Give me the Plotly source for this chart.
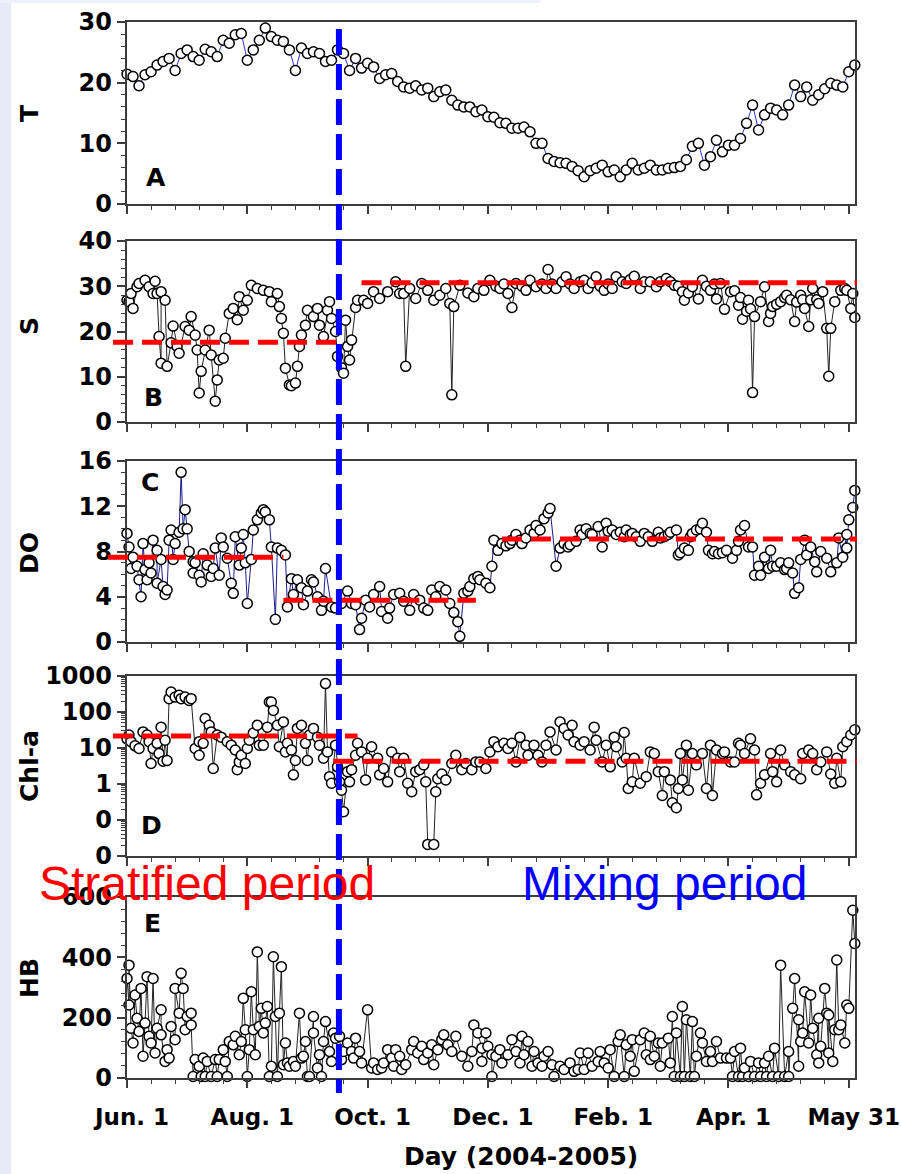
import plotly.graph_objects as go

W, H = 901, 1174

# ---------------------------------------------------------------- data ----
TICK_DAYS = [0, 60, 120, 180, 240, 300, 360]
TICK_TEXT = ["Jun. 1", "Aug. 1", "Oct. 1", "Dec. 1", "Feb. 1", "Apr. 1", "May 31"]

# boundary between stratified and mixing period (days after Jun. 1)
MIX_DAY = 105.7

# Temperature, every third day
T_DAY = list(range(0, 364, 3))
T_VAL = [
    21.4, 21.0, 19.5, 21.3, 21.8, 22.9, 23.5, 24.0, 22.0, 24.8,
    25.4, 24.3, 23.7, 25.5, 25.1, 24.3, 27.0, 26.5, 27.9, 28.1,
    23.7, 25.4, 27.0, 29.0, 27.6, 27.0, 26.8, 25.4, 22.0, 25.7,
    24.8, 25.1, 24.8, 23.5, 23.7, 25.4, 24.8, 22.0, 24.0, 22.4,
    23.2, 22.6, 20.7, 21.3, 21.5, 20.2, 19.3, 19.1, 19.5, 18.8,
    19.1, 17.7, 18.5, 18.8, 17.1, 16.3, 16.0, 16.0, 15.2, 15.5,
    14.4, 14.3, 13.4, 13.3, 12.5, 12.5, 12.7, 11.9, 10.0, 10.0,
    7.5, 7.0, 6.8, 6.7, 6.2, 5.5, 4.5, 5.5, 5.9, 6.4,
    5.3, 5.6, 4.5, 5.6, 6.7, 5.6, 5.9, 6.4, 5.6, 5.6,
    5.9, 6.0, 6.2, 7.3, 9.5, 10.0, 6.4, 7.8, 10.5, 8.6,
    9.7, 9.7, 10.8, 13.3, 16.3, 12.2, 14.7, 15.8, 15.5, 14.7,
    16.3, 19.6, 17.7, 19.3, 17.1, 18.0, 19.0, 19.9, 19.6, 19.3,
    21.8, 22.9,
]

# Salinity (day, value)
S_OBS = [
    (0, 26.9), (1, 26.6), (2, 28.4), (3, 25.1), (5, 29.9), (6, 30.6), (9, 31.3), (11, 29.9),
    (13, 28.4), (14, 31.1), (15, 28.4), (16, 18.9), (17, 13.0), (17, 28.8), (19, 26.9), (20, 12.3),
    (22, 17.5), (23, 21.2), (25, 16.7), (26, 15.2), (29, 21.1), (31, 20.3), (32, 23.3), (34, 19.2),
    (35, 15.9), (36, 6.4), (37, 11.2), (39, 15.9), (41, 20.3), (42, 14.8), (44, 4.6), (45, 9.3),
    (46, 13.7), (48, 14.1), (49, 18.5), (51, 24.0), (53, 25.1), (55, 22.6), (56, 27.7), (58, 24.7),
    (60, 26.9), (62, 30.2), (65, 29.5), (68, 29.1), (71, 28.8), (72, 26.6), (75, 28.4), (76, 25.5),
    (77, 22.9), (78, 19.6), (79, 11.9), (81, 8.2), (82, 8.0), (84, 8.6), (85, 12.3), (86, 16.7),
    (87, 19.2), (89, 21.4), (90, 24.7), (93, 23.3), (95, 25.1), (96, 21.4), (98, 18.9), (100, 24.7),
    (101, 26.6), (102, 22.9), (104, 20.0), (105, 14.5), (107, 12.0), (108, 10.8), (109, 22.5),
    (110, 16.7), (111, 13.7), (112, 18.1), (114, 25.3), (115, 26.9), (118, 26.9), (120, 26.2),
    (123, 28.8), (126, 27.3), (130, 28.8), (134, 31.0), (136, 28.4), (138, 28.4), (139, 12.3),
    (141, 29.5), (144, 27.3), (147, 30.6), (150, 29.1), (153, 26.9), (156, 28.0), (159, 29.5),
    (161, 26.2), (162, 6.0), (163, 25.5), (166, 30.2), (170, 28.5), (173, 27.7), (175, 29.5),
    (178, 29.1), (181, 31.3), (184, 30.0), (186, 29.5), (188, 30.5), (190, 28.4), (192, 25.3),
    (194, 30.6), (197, 30.0), (199, 29.1), (201, 31.3), (204, 29.9), (207, 30.5), (209, 29.5),
    (210, 33.7), (212, 30.5), (214, 29.5), (217, 31.0), (219, 32.1), (221, 30.5), (223, 29.5),
    (226, 31.0), (228, 31.3), (230, 29.5), (232, 30.8), (234, 32.1), (236, 30.0), (238, 29.1),
    (240, 30.5), (242, 29.5), (244, 32.1), (247, 31.0), (249, 30.6), (251, 31.5), (253, 32.2),
    (256, 29.5), (258, 31.0), (261, 31.0), (264, 29.9), (266, 31.0), (269, 31.7), (271, 31.0),
    (273, 30.2), (275, 30.0), (277, 28.8), (278, 26.9), (280, 28.5), (282, 29.9), (285, 27.2),
    (287, 31.3), (289, 30.0), (291, 29.1), (293, 30.5), (294, 27.2), (296, 30.6), (298, 24.9),
    (301, 28.8), (303, 29.0), (305, 25.8), (306, 27.5), (307, 22.7), (309, 24.5), (310, 26.9),
    (311, 25.0), (312, 6.5), (313, 23.3), (316, 26.6), (318, 29.9), (320, 22.2), (321, 24.0),
    (322, 25.5), (324, 26.0), (326, 26.6), (328, 27.5), (329, 28.0), (331, 27.0), (333, 22.2),
    (334, 26.5), (336, 28.0), (337, 27.0), (338, 25.1), (340, 21.1), (341, 27.0), (342, 29.5),
    (344, 27.0), (345, 26.2), (347, 28.8), (349, 20.7), (350, 10.1), (351, 20.7), (353, 26.6),
    (356, 29.1), (358, 29.5), (359, 29.1), (361, 25.1), (362, 28.4), (363, 23.1),
]

# Dissolved oxygen (day, value)
DO_OBS = [
    (0, 9.6), (1, 8.4), (2, 6.5), (3, 7.5), (5, 6.7), (6, 5.5), (7, 4.0), (8, 8.7), (9, 6.4),
    (10, 5.5), (11, 7.0), (12, 6.1), (13, 9.0), (15, 8.1), (15, 5.2), (17, 7.3), (18, 4.9),
    (19, 4.2), (20, 4.6), (21, 9.0), (22, 9.9), (23, 7.3), (24, 8.7), (26, 9.7), (27, 15.0),
    (28, 10.0), (29, 11.7), (30, 10.0), (31, 8.0), (33, 7.1), (33, 6.1), (34, 7.0), (36, 5.9),
    (37, 5.3), (38, 7.8), (40, 6.8), (42, 5.8), (43, 6.5), (44, 8.3), (46, 5.9), (47, 9.2),
    (48, 8.4), (50, 7.4), (52, 5.2), (53, 4.3), (54, 9.3), (56, 6.8), (57, 8.3), (58, 9.5),
    (59, 7.0), (60, 3.4), (62, 7.3), (63, 9.9), (65, 10.8), (67, 11.4), (68, 11.7), (69, 11.5),
    (71, 10.8), (72, 8.4), (74, 2.0), (75, 8.3), (77, 8.1), (79, 7.7), (80, 3.1), (82, 5.6),
    (83, 4.2), (85, 5.5), (87, 4.8), (88, 3.3), (90, 4.5), (92, 5.5), (93, 5.3), (95, 4.0),
    (97, 2.8), (98, 3.6), (99, 6.5), (102, 3.1), (104, 3.0), (107, 3.4), (110, 4.5), (112, 3.4),
    (114, 3.3), (116, 1.1), (117, 2.1), (119, 3.7), (121, 3.1), (123, 4.2), (126, 4.9), (127, 2.7),
    (130, 2.1), (131, 3.0), (133, 4.2), (136, 4.3), (138, 3.6), (141, 2.8), (143, 4.2), (146, 3.7),
    (148, 3.0), (150, 2.8), (152, 4.6), (154, 4.0), (156, 4.9), (159, 4.6), (161, 3.4), (163, 2.6),
    (165, 1.8), (166, 0.5), (168, 4.3), (170, 4.5), (171, 4.9), (173, 5.6), (175, 5.8), (176, 5.5),
    (179, 5.2), (181, 4.8), (182, 6.7), (183, 9.0), (185, 8.1), (187, 8.7), (189, 8.5), (191, 8.7),
    (192, 9.0), (194, 9.5), (196, 9.0), (197, 8.7), (199, 9.2), (201, 9.9), (203, 9.6), (204, 10.3),
    (206, 9.9), (208, 10.9), (210, 11.4), (211, 11.8), (214, 6.7), (216, 8.3), (218, 8.7),
    (220, 8.4), (221, 8.6), (224, 8.9), (226, 9.9), (227, 9.5), (229, 10.0), (231, 9.6), (232, 9.5),
    (235, 10.2), (237, 8.4), (239, 10.5), (240, 9.8), (242, 9.9), (244, 9.5), (246, 9.7), (248, 9.3),
    (249, 9.9), (251, 9.5), (252, 9.6), (254, 9.3), (256, 8.9), (258, 9.6), (260, 9.3), (262, 8.9),
    (265, 9.7), (266, 9.2), (268, 9.3), (270, 9.5), (271, 9.7), (274, 9.9), (275, 7.7), (276, 7.9),
    (278, 8.3), (280, 8.1), (281, 9.3), (282, 9.6), (284, 9.9), (286, 10.0), (287, 10.5), (289, 9.7),
    (290, 8.1), (292, 7.8), (293, 8.0), (295, 7.8), (297, 7.9), (299, 8.1), (302, 7.4), (304, 8.1),
    (305, 8.9), (306, 9.9), (308, 10.3), (310, 8.4), (312, 8.4), (313, 5.9), (315, 6.7), (316, 5.9),
    (318, 7.5), (320, 6.5), (321, 8.1), (322, 6.7), (324, 6.7), (326, 7.0), (328, 6.4), (329, 6.5),
    (330, 7.0), (332, 6.1), (333, 4.3), (335, 4.8), (336, 7.3), (338, 9.0), (339, 7.7), (341, 8.4),
    (343, 7.1), (344, 6.2), (346, 8.0), (349, 7.4), (351, 6.2), (354, 7.0), (355, 9.2), (357, 7.5),
    (359, 9.5), (359, 8.3), (360, 10.8), (362, 11.9), (363, 13.4),
]

# Chlorophyll-a (day, value), log scale
CHL_OBS = [
    (0, 18), (1, 23), (2, 15), (4, 11.5), (6, 9.7), (8, 28), (10, 23), (11, 15), (12, 3.7),
    (13, 9.7), (15, 13.5), (16, 7), (17, 38), (18, 4.3), (19, 16.5), (20, 4.5), (21, 235),
    (22, 360), (24, 260), (26, 290), (27, 235), (29, 260), (31, 210), (32, 235), (34, 9.7),
    (36, 15), (36, 6.3), (38, 13.5), (39, 66), (41, 43), (42, 28), (43, 2.7), (45, 23), (47, 20),
    (50, 15), (52, 12), (54, 8.8), (55, 2.5), (56, 4.1), (57, 6.3), (59, 3.7), (60, 9.7),
    (61, 16.5), (63, 26), (65, 43), (66, 12), (68, 12), (70, 38), (71, 190), (72, 190), (73, 110),
    (75, 43), (76, 10.8), (78, 53), (79, 7.8), (80, 13.5), (82, 8.8), (83, 1.8), (84, 4.5),
    (85, 35), (87, 43), (89, 13.5), (90, 4.5), (91, 23), (93, 35), (95, 20), (96, 12), (98, 5.2),
    (99, 615), (100, 7.8), (101, 1.6), (102, 1.05), (104, 12), (105, 3), (106, 1.15), (107, 0.67),
    (108, 0.17), (110, 2.2), (111, 1.15), (112, 2.5), (114, 6.3), (115, 13.5), (117, 7.8),
    (119, 1.3), (120, 5.2), (122, 10.8), (125, 5.2), (126, 1.8), (128, 2.7), (130, 1.15),
    (132, 7.8), (135, 5.2), (136, 2.2), (138, 5.2), (140, 1.05), (142, 0.61), (144, 2.2),
    (146, 2.5), (148, 3.4), (149, 1.15), (150, 0.021), (153, 0.021), (154, 0.61), (155, 1.4),
    (157, 1.9), (159, 1.3), (162, 3.7), (164, 6.3), (167, 2.5), (169, 3.7), (172, 2.5), (174, 4.1),
    (176, 4.1), (179, 2.7), (181, 7.8), (183, 15), (185, 10.8), (188, 13.5), (190, 9.7),
    (192, 13.5), (194, 4.1), (196, 20), (199, 12), (200, 6.3), (203, 12), (205, 6.3), (207, 4.1),
    (209, 12), (211, 28), (214, 8.8), (216, 53), (218, 35), (220, 23), (222, 43), (223, 15),
    (226, 12), (228, 15), (231, 8.8), (233, 38), (234, 16.5), (237, 4.1), (239, 12), (241, 3),
    (243, 20), (244, 10.8), (247, 4.1), (248, 27), (249, 5.2), (250, 0.75), (252, 1.15),
    (253, 5.2), (256, 1.05), (259, 1.6), (261, 7.8), (263, 7), (265, 2.2), (267, 0.48),
    (268, 2.2), (271, 1.3), (272, 0.3), (274, 0.22), (275, 0.75), (276, 7), (277, 1.3), (279, 12),
    (280, 0.67), (282, 7), (284, 3.4), (287, 7), (289, 0.75), (291, 12), (292, 0.48), (294, 8.8),
    (297, 7), (298, 7.8), (301, 4.1), (303, 4.1), (305, 13.5), (306, 12), (308, 7), (311, 18),
    (313, 8.8), (314, 0.5), (316, 1.05), (318, 1.8), (321, 7), (322, 2.2), (324, 1.15),
    (326, 8.8), (328, 3.4), (331, 2.2), (333, 1.8), (336, 1.4), (337, 7), (340, 8.8), (342, 7),
    (344, 2.5), (346, 4.1), (349, 7.8), (351, 1.9), (353, 1.05), (354, 5.2), (356, 1.15),
    (357, 10.8), (359, 15), (361, 23), (363, 32),
]

# Heterotrophic bacteria (day, value)
HB_OBS = [
    (0, 330), (1, 242), (1, 374), (2, 165), (3, 116), (4, 275), (5, 198), (6, 154), (7, 297),
    (8, 72), (9, 182), (10, 336), (11, 138), (12, 116), (13, 330), (14, 83), (15, 165), (17, 226),
    (17, 143), (19, 55), (20, 94), (21, 66), (22, 171), (24, 127), (24, 297), (26, 215), (27, 347),
    (28, 297), (29, 160), (30, 204), (32, 215), (32, 176), (33, 5), (34, 61), (36, 39), (37, 5),
    (38, 66), (39, 5), (40, 55), (42, 5), (44, 61), (45, 5), (46, 61), (48, 94), (49, 55), (50, 5),
    (51, 121), (53, 110), (54, 138), (56, 77), (57, 121), (58, 264), (59, 160), (60, 5), (61, 94),
    (62, 286), (63, 160), (64, 77), (65, 418), (66, 171), (67, 231), (68, 149), (69, 182),
    (70, 237), (71, 5), (72, 39), (73, 402), (74, 204), (75, 5), (76, 215), (77, 369), (78, 44),
    (79, 116), (80, 50), (81, 39), (83, 55), (84, 39), (86, 215), (87, 66), (88, 72), (89, 121),
    (90, 5), (91, 5), (93, 204), (93, 149), (95, 33), (96, 77), (97, 5), (98, 121), (99, 187),
    (101, 88), (102, 55), (103, 149), (104, 132), (106, 138), (107, 61), (108, 88), (110, 116),
    (112, 88), (113, 66), (114, 132), (116, 88), (117, 50), (120, 226), (122, 33), (123, 50),
    (125, 28), (127, 33), (128, 50), (130, 94), (132, 66), (133, 39), (134, 94), (136, 72),
    (137, 28), (139, 44), (142, 94), (143, 121), (145, 83), (147, 105), (148, 61), (150, 83),
    (152, 110), (153, 44), (155, 94), (157, 127), (158, 143), (160, 110), (162, 88), (164, 138),
    (167, 72), (170, 39), (172, 88), (173, 176), (175, 149), (177, 99), (177, 55), (179, 149),
    (180, 105), (182, 77), (182, 5), (184, 72), (186, 94), (187, 50), (190, 77), (192, 127),
    (194, 88), (196, 50), (197, 138), (198, 77), (200, 121), (202, 39), (203, 88), (205, 50),
    (207, 39), (208, 72), (210, 88), (212, 44), (213, 5), (216, 39), (218, 28), (221, 50),
    (223, 22), (225, 28), (226, 83), (228, 28), (230, 83), (232, 39), (235, 55), (236, 88),
    (238, 50), (240, 33), (241, 94), (243, 5), (245, 121), (246, 143), (248, 5), (249, 110),
    (251, 72), (252, 127), (253, 22), (256, 127), (258, 149), (259, 77), (261, 61), (261, 138),
    (263, 72), (265, 116), (266, 39), (267, 116), (270, 132), (271, 50), (272, 204), (273, 5),
    (274, 149), (276, 5), (277, 237), (278, 5), (279, 193), (281, 5), (282, 187), (283, 5),
    (284, 72), (286, 149), (287, 116), (289, 55), (291, 88), (292, 55), (294, 121), (296, 66),
    (299, 66), (301, 66), (302, 5), (303, 88), (305, 5), (306, 99), (307, 5), (308, 33), (310, 5),
    (311, 55), (313, 5), (315, 50), (316, 5), (318, 50), (319, 5), (320, 72), (322, 5), (323, 99),
    (325, 5), (326, 374), (328, 5), (330, 88), (330, 5), (332, 231), (333, 330), (335, 39),
    (335, 193), (336, 121), (337, 149), (338, 286), (340, 116), (341, 275), (342, 165), (344, 77),
    (345, 198), (345, 50), (346, 105), (348, 297), (349, 215), (350, 83), (350, 209), (352, 55),
    (353, 160), (354, 391), (355, 160), (356, 176), (358, 116), (359, 242), (360, 231), (362, 556),
    (363, 446),
]

# Period means: (first day, last day, level)
S_MEANS = [(-7, 108, 17.6), (117, 364, 30.8)]
DO_MEANS = [(-9.5, 78, 7.5), (78, 174, 3.7), (187, 364, 9.1)]
CHL_MEANS = [(-7, 115, 21.5), (103, 364, 4.3)]

# -------------------------------------------------------------- layout ----
X_RANGE = [-0.25, 363.1]
X_DOMAIN = [126.5 / W, 855 / W]


def px_y(p):
    return 1 - p / H


AX_COLOR = "#3c3c3c"
TICK_FONT = dict(family="DejaVu Sans", size=24, color="black", weight="bold")
XTICK_FONT = dict(family="DejaVu Sans", size=23, color="black", weight="bold")
LABEL_FONT = dict(family="DejaVu Sans", size=25, color="black", weight="bold")


def day_to_paper(d):
    frac = (d - X_RANGE[0]) / (X_RANGE[1] - X_RANGE[0])
    return X_DOMAIN[0] + frac * (X_DOMAIN[1] - X_DOMAIN[0])


log_minor = [k * 10 ** e for e in range(-2, 3) for k in range(2, 10)]

panels = [
    dict(title="T", letter="A", obs=list(zip(T_DAY, T_VAL)), top=22, bottom=204,
         yr=[0, 30], tickvals=[0, 10, 20, 30], ticktext=None, minor=2,
         line="#2a3ad0", means=[], title_y=113, letter_xy=(156, 177)),
    dict(title="S", letter="B", obs=S_OBS, top=241, bottom=422,
         yr=[0, 40], tickvals=[0, 10, 20, 30, 40], ticktext=None, minor=2,
         line="#222222", means=S_MEANS, title_y=326, letter_xy=(153, 397)),
    dict(title="DO", letter="C", obs=DO_OBS, top=461, bottom=642,
         yr=[0, 16], tickvals=[0, 4, 8, 12, 16], ticktext=None, minor=1,
         line="#1c1c8c", means=DO_MEANS, title_y=553, letter_xy=(150, 483)),
    dict(title="Chl-a", letter="D", obs=CHL_OBS, top=676, bottom=856,
         yr=[-2, 3], tickvals=[0.01, 0.1, 1, 10, 100, 1000],
         ticktext=["0", "0", "1", "10", "100", "1000"], minor=None,
         line="#222222", means=CHL_MEANS, title_y=766, letter_xy=(151, 825)),
    dict(title="HB", letter="E", obs=HB_OBS, top=897, bottom=1078,
         yr=[0, 600], tickvals=[0, 200, 400, 600], ticktext=None, minor=40,
         line="#222222", means=[], title_y=978, letter_xy=(152, 923)),
]

fig = go.Figure()
layout = dict(
    template="none",
    width=W, height=H, margin=dict(l=0, r=0, t=0, b=0, autoexpand=False),
    paper_bgcolor="white", plot_bgcolor="white", showlegend=False,
)
shapes = [
    dict(type="rect", xref="paper", yref="paper", x0=0, x1=11 / W, y0=0, y1=1,
         fillcolor="#e7ebf7", line=dict(width=0), layer="below"),
    dict(type="rect", xref="paper", yref="paper", x0=0, x1=0.6, y0=px_y(3), y1=1,
         fillcolor="#eef1fa", line=dict(width=0), layer="below"),
]
annotations = []

for i, p in enumerate(panels, start=1):
    sx = "" if i == 1 else str(i)
    xid, yid = "x" + sx, "y" + sx
    days = [d for d, _ in p["obs"]]
    vals = [v for _, v in p["obs"]]
    fig.add_trace(go.Scatter(
        x=days, y=vals, mode="lines+markers", xaxis=xid, yaxis=yid,
        line=dict(color=p["line"], width=1),
        marker=dict(symbol="circle", size=10, color="white",
                    line=dict(color="black", width=1.5)),
        cliponaxis=False, hoverinfo="x+y",
    ))

    xa = dict(
        domain=X_DOMAIN, range=X_RANGE, anchor=yid, automargin=False,
        showline=True, linecolor=AX_COLOR, linewidth=1.5, mirror=True,
        ticks="outside", ticklen=8, tickwidth=1.5, tickcolor=AX_COLOR,
        tickmode="array", tickvals=TICK_DAYS, ticktext=TICK_TEXT,
        showticklabels=(i == len(panels)), tickfont=XTICK_FONT,
        minor=dict(tickmode="linear", tick0=0, dtick=12, ticks="outside",
                   ticklen=4, tickwidth=1, tickcolor=AX_COLOR),
        showgrid=False, zeroline=False,
    )
    if i == len(panels):
        xa.update(ticklabelshift=5, ticklabelstandoff=10, ticklabeloverflow="allow")

    ya = dict(
        domain=[px_y(p["bottom"]), px_y(p["top"])], range=p["yr"], anchor=xid,
        automargin=False,
        showline=True, linecolor=AX_COLOR, linewidth=1.5, mirror=True,
        ticks="outside", ticklen=8, tickwidth=1.5, tickcolor=AX_COLOR,
        tickmode="array", tickvals=p["tickvals"], tickfont=TICK_FONT,
        showgrid=False, zeroline=False,
    )
    if p["ticktext"] is not None:
        ya.update(type="log", ticktext=p["ticktext"],
                  minor=dict(tickmode="array", tickvals=log_minor, ticks="outside",
                             ticklen=4, tickwidth=1, tickcolor=AX_COLOR))
    else:
        ya.update(minor=dict(tickmode="linear", tick0=0, dtick=p["minor"],
                             ticks="outside", ticklen=4, tickwidth=1,
                             tickcolor=AX_COLOR))

    layout["xaxis" + sx] = xa
    layout["yaxis" + sx] = ya

    for d0, d1, level in p["means"]:
        shapes.append(dict(
            type="line", xref="paper", yref=yid,
            x0=day_to_paper(d0), x1=day_to_paper(d1), y0=level, y1=level,
            line=dict(color="#ff0000", width=5, dash="20px,9px"), layer="above",
        ))

    annotations.append(dict(
        text=p["title"], xref="paper", yref="paper", x=29 / W, y=px_y(p["title_y"]),
        xanchor="center", yanchor="middle", textangle=-90, showarrow=False,
        font=LABEL_FONT,
    ))
    lx, ly = p["letter_xy"]
    annotations.append(dict(
        text=p["letter"], xref="paper", yref="paper", x=lx / W, y=px_y(ly),
        xanchor="center", yanchor="middle", showarrow=False, font=LABEL_FONT,
    ))

# boundary between the two periods
shapes.append(dict(
    type="line", xref="x", yref="paper", x0=MIX_DAY, x1=MIX_DAY,
    y0=px_y(29), y1=px_y(1093),
    line=dict(color="#0000ff", width=6, dash="26px,9px"), layer="above",
))

annotations += [
    dict(text="Stratified period", xref="paper", yref="paper", x=37 / W, y=px_y(883),
         xanchor="left", yanchor="middle", showarrow=False,
         font=dict(family="Liberation Sans", size=48, color="#ff0000")),
    dict(text="Mixing period", xref="paper", yref="paper", x=520 / W, y=px_y(883),
         xanchor="left", yanchor="middle", showarrow=False,
         font=dict(family="Liberation Sans", size=48, color="#0000ff")),
    dict(text="Day (2004-2005)", xref="paper", yref="paper", x=521 / W, y=px_y(1156),
         xanchor="center", yanchor="middle", showarrow=False,
         font=dict(family="DejaVu Sans", size=25, color="black", weight="bold")),
]

layout["shapes"] = shapes
layout["annotations"] = annotations
fig.update_layout(**layout)

fig.write_html("out.html")
